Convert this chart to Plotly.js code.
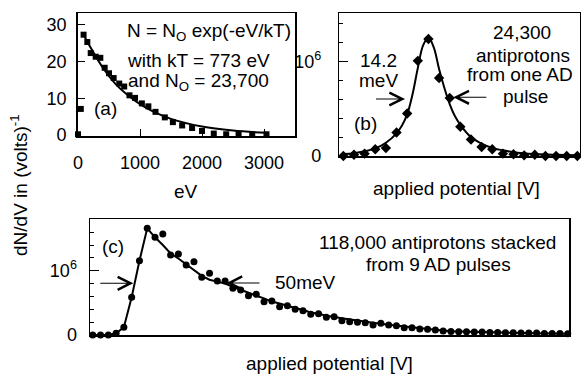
<!DOCTYPE html>
<html>
<head>
<meta charset="utf-8">
<script src="https://cdn.plot.ly/plotly-3.0.1.min.js"></script>
<style>html,body{margin:0;padding:0;background:#fff;}#chart{width:581px;height:375px;}</style>
</head>
<body>
<div id="chart"></div>
<script>
// ---------- Panel (a): energy distribution ----------
const aEnergy = [0, 45, 90, 150, 205, 285, 360, 430, 500, 575, 665, 745, 830, 920, 1030, 1135, 1250, 1400, 1530, 1680, 1840, 2000, 2190, 2390, 2590, 2810, 3040];
const aCounts = [0.2, 7.1, 27.3, 25.3, 22.3, 21.3, 21.0, 18.3, 16.8, 15.5, 14.0, 13.2, 10.8, 10.1, 8.6, 7.8, 6.3, 4.8, 3.5, 2.6, 1.9, 1.1, 0.4, 0.2, 0.2, 0.2, 0.2];
const aFitEnergy = [90, 200, 400, 600, 800, 1000, 1200, 1500, 2000, 2500, 3040];
const aFitCounts = [27.3, 23.9, 18.3, 14.0, 10.9, 8.4, 6.5, 4.4, 2.3, 1.2, 0.6];
const aTickVals = [0, 1000, 2000, 3000];
const aYTickVals = [0, 10, 20, 30];

// ---------- Panel (b): one AD pulse ----------
const bPotential = [0,1,2,3,4,5,6,7,8,9,10,11,12,13,14,15,16,17,18,19,20,21,22];
const bCounts = [0.00, 0.014, 0.025, 0.071, 0.085, 0.248, 0.45, 1.007, 1.238, 0.826, 0.613, 0.309, 0.174, 0.096, 0.071, 0.025, 0.018, 0.007, 0.014, 0.0, 0.0, 0.0, 0.0];
const bFitPotential = [0,1,2,3,4,5,5.5,6,6.5,7,7.5,8,8.5,9,9.5,10,10.5,11,12,13,14,15,16,18,20,22];
const bFitCounts = [0.02,0.03,0.05,0.08,0.14,0.24,0.32,0.44,0.65,0.93,1.17,1.25,1.15,0.92,0.72,0.55,0.42,0.33,0.20,0.13,0.085,0.06,0.04,0.02,0.012,0.008];

// ---------- Panel (c): 9 stacked AD pulses ----------
const cCounts = [0,0,0,0.026,0.12,0.586,1.155,1.66,1.52,1.57,1.244,1.26,1.09,1.14,0.897,0.96,0.84,0.84,0.726,0.70,0.611,0.633,0.518,0.529,0.44,0.456,0.40,0.378,0.322,0.331,0.275,0.285,0.222,0.207,0.197,0.191,0.156,0.182,0.156,0.145,0.114,0.114,0.093,0.089,0.078,0.062,0.055,0.05,0.05,0.045,0.045,0.04,0.04,0.035,0.035,0.03,0.03,0.03,0.025,0.025,0.025,0.02];
const cPotential = cCounts.map((_, i) => i);
const cLinePotential = [0,1,2,3,4,5,6,7,8,9,10,11,12,13,14,15,16,17,18,19,20,21,22,23,24,25,26,27,28,29,30,32,34,36,38,40,42,44,46,50,55,61];
const cLineCounts = [0,0,0,0.026,0.12,0.586,1.155,1.66,1.52,1.40,1.27,1.19,1.10,1.01,0.92,0.86,0.83,0.80,0.75,0.70,0.65,0.61,0.57,0.52,0.49,0.45,0.42,0.39,0.35,0.33,0.30,0.26,0.22,0.19,0.16,0.13,0.10,0.08,0.06,0.045,0.03,0.02];

const millionTicks = [0, 1];
const millionText = ['0', '10<sup>6</sup>'];

// ---------- helpers for layout placement ----------
const W = 581, H = 375;
const px = x => x / W;
const py = y => 1 - y / H;
const FONT = 'Liberation Sans, Arial, Helvetica, sans-serif';
const FS = 18;   // tick labels
const TS = 19;   // annotation text

const traces = [
  {x: aFitEnergy, y: aFitCounts, xaxis: 'x', yaxis: 'y', mode: 'lines', line: {color: '#000', width: 2, shape: 'spline'}, cliponaxis: false, hoverinfo: 'skip'},
  {x: aEnergy, y: aCounts, xaxis: 'x', yaxis: 'y', mode: 'markers', marker: {symbol: 'square', size: 6, color: '#000'}, cliponaxis: false},
  {x: bFitPotential, y: bFitCounts, xaxis: 'x2', yaxis: 'y2', mode: 'lines', line: {color: '#000', width: 2, shape: 'spline'}, cliponaxis: false},
  {x: bPotential, y: bCounts, xaxis: 'x2', yaxis: 'y2', mode: 'markers', marker: {symbol: 'diamond', size: 8, color: '#000'}, cliponaxis: false},
  {x: cLinePotential, y: cLineCounts, xaxis: 'x3', yaxis: 'y3', mode: 'lines', line: {color: '#000', width: 2}, cliponaxis: false},
  {x: cPotential, y: cCounts, xaxis: 'x3', yaxis: 'y3', mode: 'markers', marker: {symbol: 'circle', size: 7, color: '#000'}, cliponaxis: false}
];

const baseAxis = {
  showline: true, mirror: true, linecolor: '#000', linewidth: 1.5,
  showgrid: false, zeroline: false, ticks: 'inside', tickcolor: '#000',
  ticklen: 7, tickwidth: 1, tickfont: {family: FONT, size: FS, color: '#000'},
  fixedrange: true
};

const layout = {
  width: W, height: H, autosize: false,
  margin: {l: 0, r: 0, t: 0, b: 0, pad: 0},
  paper_bgcolor: '#fff', plot_bgcolor: '#fff',
  showlegend: false,
  font: {family: FONT, size: FS, color: '#000'},
  xaxis: Object.assign({}, baseAxis, {domain: [px(77.7), px(295)], range: [-5, 3500], anchor: 'y',
    tickmode: 'array', tickvals: aTickVals, ticklabelstandoff: 10}),
  yaxis: Object.assign({}, baseAxis, {domain: [py(136), py(13)], range: [-0.27, 33.2], anchor: 'x',
    tickmode: 'array', tickvals: aYTickVals, ticklabelstandoff: 6}),
  xaxis2: Object.assign({}, baseAxis, {domain: [px(339.3), px(580)], range: [-0.38, 22.25], anchor: 'y2',
    ticks: '', showticklabels: false}),
  yaxis2: Object.assign({}, baseAxis, {domain: [py(156), py(13.3)], range: [0, 1.51], anchor: 'x2',
    tickmode: 'array', tickvals: millionTicks, ticktext: millionText, ticklen: 9, ticklabelstandoff: 13,
    minor: {ticks: 'inside', tick0: 0, dtick: 0.2, ticklen: 4, tickcolor: '#000', tickwidth: 1}}),
  xaxis3: Object.assign({}, baseAxis, {domain: [px(90), px(569.3)], range: [-0.35, 61.2], anchor: 'y3',
    ticks: '', showticklabels: false}),
  yaxis3: Object.assign({}, baseAxis, {domain: [py(335), py(219.3)], range: [0, 1.8], anchor: 'x3',
    tickmode: 'array', tickvals: millionTicks, ticktext: millionText, ticklen: 9, ticklabelstandoff: 8,
    minor: {ticks: 'inside', tick0: 0, dtick: 0.2, ticklen: 4, tickcolor: '#000', tickwidth: 1}}),
  annotations: []
};

function txt(text, x, y, xanchor, opts) {
  return Object.assign({text: text, xref: 'paper', yref: 'paper', x: px(x), y: py(y),
    xanchor: xanchor || 'center', yanchor: 'middle', showarrow: false,
    font: {family: FONT, size: TS, color: '#000'}}, opts || {});
}
function arrow(xr, yr, x, y, ax) {
  return {xref: xr, yref: yr, x: x, y: y, ax: ax, ay: 0, text: ' ', showarrow: true,
    arrowhead: 5, arrowsize: 2.3, arrowwidth: 1.1, arrowcolor: '#000', standoff: 0};
}

layout.annotations.push(
  // panel (a)
  txt('N = N<sub>O</sub> exp(-eV/kT)', 125, 32, 'left'),
  txt('with kT = 773 eV', 125, 61, 'left'),
  txt('and N<sub>O</sub> = 23,700', 126, 82, 'left'),
  txt('(a)', 105, 108),
  txt('eV', 186, 191),
  // panel (b)
  txt('24,300', 522, 32),
  txt('antiprotons', 523, 55),
  txt('from one AD', 520, 75),
  txt('pulse', 525, 97),
  txt('14.2', 378, 60),
  txt('meV', 378, 80),
  txt('(b)', 365, 123),
  txt('applied potential [V]', 456, 188),
  arrow('x2', 'y2', 5.8, 0.603, -33),
  arrow('x2', 'y2', 10.34, 0.621, 37),
  // panel (c)
  txt('(c)', 113, 247),
  txt('118,000 antiprotons stacked', 437, 242),
  txt('from 9 AD pulses', 438, 264),
  txt('50meV', 273, 282, 'left'),
  txt('applied potential [V]', 329, 363),
  arrow('x3', 'y3', 5.21, 0.804, -37),
  arrow('x3', 'y3', 17.18, 0.81, 37),
  // shared y title
  txt('dN/dV in (volts)<sup>-1</sup>', 19, 185, 'center', {textangle: -90})
);

Plotly.newPlot('chart', traces, layout, {displayModeBar: false, staticPlot: true});
</script>
</body>
</html>
